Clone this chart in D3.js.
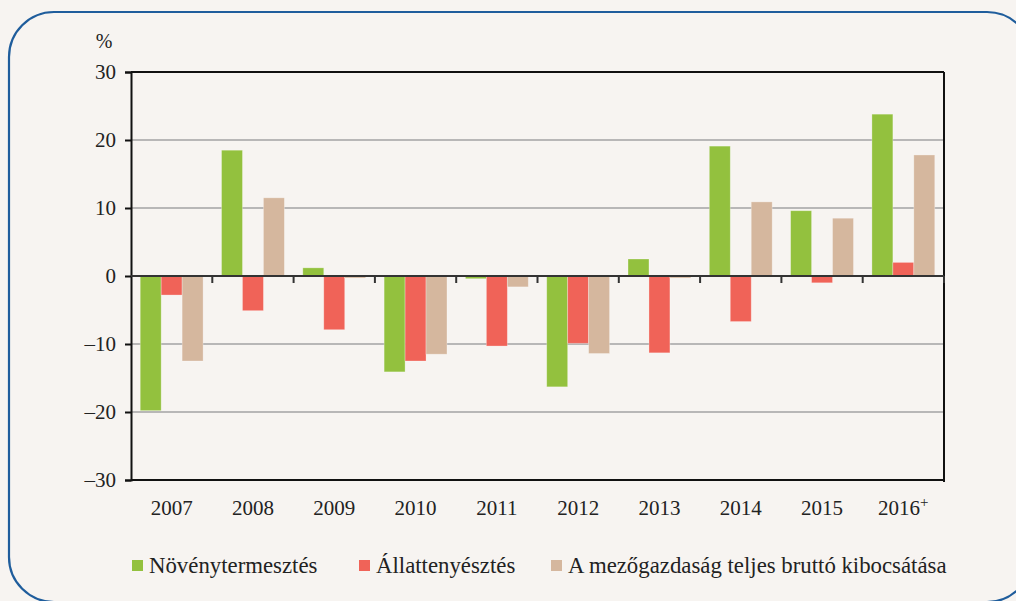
<!DOCTYPE html>
<html>
<head>
<meta charset="utf-8">
<script src="https://cdn.jsdelivr.net/npm/d3@7"></script>
<style>
  body { margin: 0; background: #f7f4f1; }
  svg { display: block; }
  text { font-family: "Liberation Serif", "Times New Roman", Times, serif; }
</style>
</head>
<body>
<svg id="chart" width="1016" height="601"></svg>
<script>
const years = ["2007", "2008", "2009", "2010", "2011", "2012", "2013", "2014", "2015", "2016"];
const seriesNames = ["Növénytermesztés", "Állattenyésztés", "A mezőgazdaság teljes bruttó kibocsátása"];
const noveny = [-19.8, 18.5, 1.2, -14.1, -0.4, -16.3, 2.5, 19.1, 9.6, 23.8];
const allat = [-2.8, -5.1, -7.9, -12.5, -10.3, -9.9, -11.3, -6.7, -1.0, 2.0];
const teljes = [-12.5, 11.5, -0.3, -11.5, -1.6, -11.4, -0.3, 10.9, 8.5, 17.8];
const yTicks = [-30, -20, -10, 0, 10, 20, 30];
const colors = ["#93c13e", "#f06358", "#d5b79e"];
const serif = "Liberation Serif, Times New Roman, serif";

const svg = d3.select("#chart");
const width = 1016, height = 601;
const margin = {top: 72, right: 72, bottom: 121, left: 131};

// rounded frame
svg.append("rect")
    .attr("x", 9).attr("y", 12)
    .attr("width", 1023).attr("height", 590)
    .attr("rx", 45).attr("ry", 45)
    .attr("fill", "#f7f4f1")
    .attr("stroke", "#1f5d9c")
    .attr("stroke-width", 2.2);

const x = d3.scaleBand()
    .domain(years)
    .range([margin.left, width - margin.right]);

const xInner = d3.scaleBand()
    .domain(d3.range(3))
    .range([0, x.bandwidth()])
    .paddingOuter(0.44);

const y = d3.scaleLinear()
    .domain([-30, 30])
    .range([height - margin.bottom, margin.top]);

// grid lines
svg.append("g")
    .selectAll("line")
    .data(yTicks.filter(d => d !== 0 && Math.abs(d) !== 30))
    .enter().append("line")
    .attr("x1", margin.left).attr("x2", width - margin.right)
    .attr("y1", d => y(d)).attr("y2", d => y(d))
    .attr("stroke", "#a3a3a3")
    .attr("stroke-width", 1.5);

// bars
const data = years.map((yr, i) => ({year: yr, values: [noveny[i], allat[i], teljes[i]]}));
const groups = svg.append("g")
    .selectAll("g")
    .data(data)
    .enter().append("g")
    .attr("transform", d => `translate(${x(d.year)},0)`);

groups.selectAll("rect")
    .data(d => d.values.map((v, k) => ({k: k, v: v})))
    .enter().append("rect")
    .attr("x", d => xInner(d.k))
    .attr("width", xInner.bandwidth())
    .attr("y", d => y(Math.max(0, d.v)))
    .attr("height", d => Math.abs(y(d.v) - y(0)))
    .attr("fill", d => colors[d.k])
    .attr("stroke", "#ffffff")
    .attr("stroke-opacity", 0.35)
    .attr("stroke-width", 0.8);

// left axis
const yAxis = svg.append("g")
    .attr("transform", `translate(${margin.left},0)`)
    .call(d3.axisLeft(y).tickValues(yTicks).tickSize(6).tickPadding(9)
        .tickFormat(d => d < 0 ? "\u2013" + Math.abs(d) : d));
yAxis.attr("font-family", serif);
yAxis.select(".domain").attr("stroke", "#111").attr("stroke-width", 2);
yAxis.selectAll(".tick line").attr("stroke", "#111").attr("stroke-width", 2);
yAxis.selectAll(".tick text")
    .attr("font-size", 21).attr("fill", "#222");

// top, right, bottom frame
svg.append("line")
    .attr("x1", margin.left).attr("x2", width - margin.right)
    .attr("y1", y(30)).attr("y2", y(30))
    .attr("stroke", "#111").attr("stroke-width", 2);
svg.append("line")
    .attr("x1", width - margin.right).attr("x2", width - margin.right)
    .attr("y1", y(30)).attr("y2", y(-30) + 2)
    .attr("stroke", "#111").attr("stroke-width", 2);
svg.append("line")
    .attr("x1", margin.left).attr("x2", width - margin.right)
    .attr("y1", y(-30)).attr("y2", y(-30))
    .attr("stroke", "#111").attr("stroke-width", 2);

// zero line with category ticks
const zeroAxis = svg.append("g")
    .attr("transform", `translate(0,${y(0)})`);
zeroAxis.append("line")
    .attr("x1", margin.left).attr("x2", width - margin.right)
    .attr("stroke", "#333").attr("stroke-width", 2);
zeroAxis.selectAll(".ztick")
    .data(years.slice(1).map(d => x(d)).concat([width - margin.right]))
    .enter().append("line")
    .attr("class", "ztick")
    .attr("x1", d => d).attr("x2", d => d)
    .attr("y1", 0).attr("y2", 7)
    .attr("stroke", "#333").attr("stroke-width", 2);

// x labels
const xLabels = svg.append("g")
    .selectAll("text")
    .data(years)
    .enter().append("text")
    .attr("x", d => x(d) + x.bandwidth() / 2)
    .attr("y", 515)
    .attr("text-anchor", "middle")
    .attr("font-family", serif)
    .attr("font-size", 21)
    .attr("fill", "#222")
    .text(d => d);
xLabels.filter(d => d === "2016")
    .append("tspan")
    .attr("dy", -8)
    .attr("font-size", 15)
    .text("+");

// unit label
svg.append("text")
    .attr("x", 104).attr("y", 48)
    .attr("text-anchor", "middle")
    .attr("font-family", serif)
    .attr("font-size", 20)
    .attr("fill", "#222")
    .text("%");

// legend
const legendX = [132, 359, 551];
const legend = svg.append("g")
    .selectAll("g")
    .data(seriesNames)
    .enter().append("g")
    .attr("transform", (d, i) => `translate(${legendX[i]},566)`);
legend.append("rect")
    .attr("x", 0).attr("y", -6)
    .attr("width", 11).attr("height", 11)
    .attr("fill", (d, i) => colors[i]);
legend.append("text")
    .attr("x", 17).attr("y", 7)
    .attr("font-family", serif)
    .attr("font-size", 22.8)
    .attr("fill", "#222")
    .text(d => d);
</script>
</body>
</html>
